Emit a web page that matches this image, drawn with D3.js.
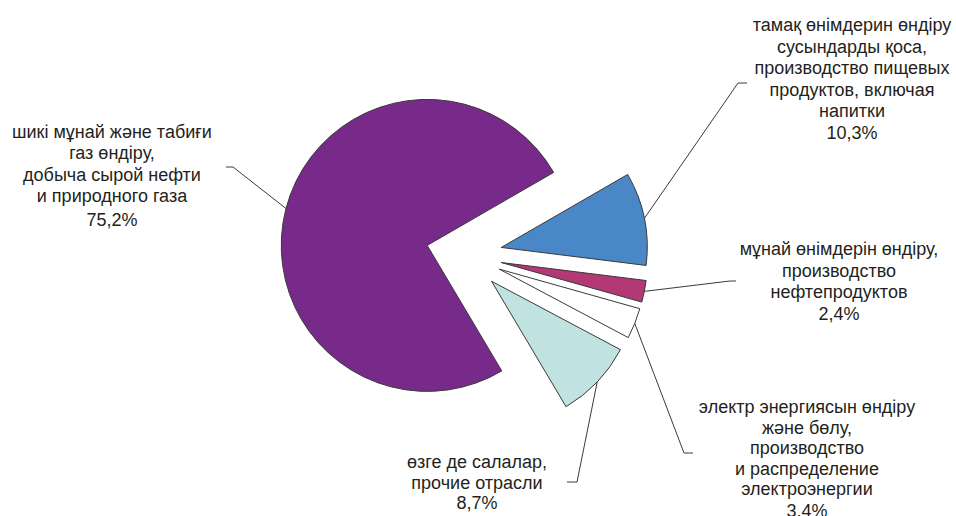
<!DOCTYPE html>
<html>
<head>
<meta charset="utf-8">
<script src="https://cdn.jsdelivr.net/npm/d3@7"></script>
<style>
  body { margin: 0; background: #fff; }
  text { font-family: 'Liberation Sans', Arial, sans-serif; fill: #231f20; }
</style>
</head>
<body>
<svg id="chart" width="956" height="516"></svg>
<script>
// slice order clockwise from ~2 o'clock
const categories = [
  ['тамақ өнімдерин өндіру', 'сусындарды қоса,', 'производство пищевых', 'продуктов, включая', 'напитки'],
  ['мұнай өнімдерін өндіру,', 'производство', 'нефтепродуктов'],
  ['электр энергиясын өндіру', 'және бөлу,', 'производство', 'и распределение', 'электроэнергии'],
  ['өзге де салалар,', 'прочие отрасли'],
  ['шикі мұнай және табиғи', 'газ өндіру,', 'добыча сырой нефти', 'и природного газа']
]
const values = [10.3, 2.4, 3.4, 8.7, 75.2]
const valueLabels = ['10,3%', '2,4%', '3,4%', '8,7%', '75,2%']
const colors = ['#4a87c6', '#b23876', '#ffffff', '#c0e2e0', '#782a8a']

// label layout: text centre x, first baseline, line step, gap before percent, leader elbow, leader end
const labelLayout = [
  { x: 852, y: 31, step: 21.5, gap: 21.5, elbow: [738, 83], end: [747, 83] },
  { x: 839, y: 255, step: 21.5, gap: 22, elbow: [730, 281], end: [736, 281] },
  { x: 807, y: 413, step: 20.5, gap: 22, elbow: [684, 453], end: [693, 453] },
  { x: 477, y: 468, step: 20.5, gap: 20.5, elbow: [577, 482], end: [567, 482] },
  { x: 112, y: 138, step: 21.3, gap: 24, elbow: [233, 167], end: [226, 167] }
]

const svg = d3.select('#chart')
const cx = 464
const cy = 255
const radius = 146
const explode = 38
const start = 60 * Math.PI / 180

const pie = d3.pie().sort(null).value(d => d).startAngle(start).endAngle(start + 2 * Math.PI)
const arc = d3.arc().innerRadius(0).outerRadius(radius)
const slices = pie(values)

const offset = (angle, dist) => [Math.sin(angle) * dist, -Math.cos(angle) * dist]

const g = svg.append('g').attr('transform', `translate(${cx}, ${cy})`)

g.selectAll('path.slice')
  .data(slices)
  .join('path')
  .attr('class', 'slice')
  .attr('transform', d => {
    const [dx, dy] = offset((d.startAngle + d.endAngle) / 2, explode)
    return `translate(${dx}, ${dy})`
  })
  .attr('d', arc)
  .attr('fill', (d, i) => colors[i])
  .attr('stroke', '#3a3a3a')
  .attr('stroke-width', 1)

// leader lines from the middle of each outer arc
slices.forEach((d, i) => {
  const [sx, sy] = offset((d.startAngle + d.endAngle) / 2, radius + explode)
  const lay = labelLayout[i]
  svg.append('polyline')
    .attr('points', [[cx + sx, cy + sy], lay.elbow, lay.end].map(p => p.join(',')).join(' '))
    .attr('fill', 'none')
    .attr('stroke', '#3a3a3a')
    .attr('stroke-width', 1)
})

// labels
categories.forEach((lines, i) => {
  const lay = labelLayout[i]
  const t = svg.append('text')
    .attr('text-anchor', 'middle')
    .attr('font-size', 18)
  lines.forEach((line, j) => {
    t.append('tspan').attr('x', lay.x).attr('y', lay.y + j * lay.step).text(line)
  })
  t.append('tspan')
    .attr('x', lay.x)
    .attr('y', lay.y + (lines.length - 1) * lay.step + lay.gap)
    .text(valueLabels[i])
})
</script>
</body>
</html>
